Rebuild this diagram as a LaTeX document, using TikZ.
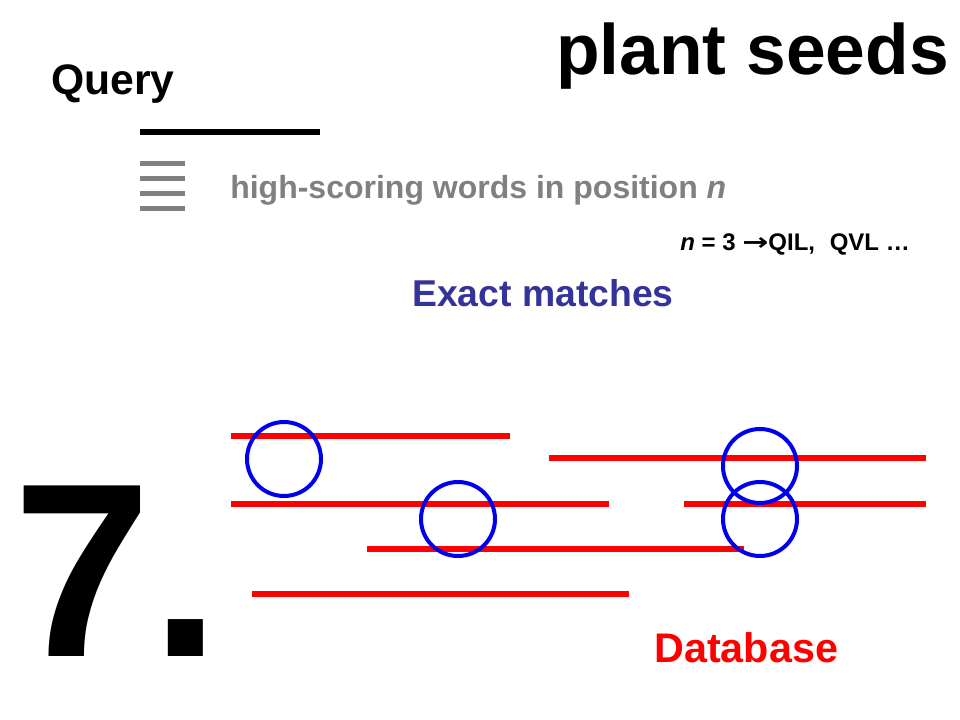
\documentclass[tikz,border=0pt]{standalone}
\usepackage{fontspec}
\setmainfont{Liberation Sans}
\newfontfamily\arrowfont{DejaVu Sans}
\usepackage{tikz}
\definecolor{SeedRed}{rgb}{1,0,0}
\definecolor{SeedBlue}{rgb}{0,0,0.93}
\definecolor{MatchBlue}{rgb}{0.2,0.2,0.6}
\definecolor{WordGrey}{rgb}{0.5,0.5,0.5}
\tikzset{
    txt/.style={anchor=base west, inner sep=0pt, font=\bfseries},
    dbline/.style={SeedRed, line width=4.5pt},
    seed/.style={SeedBlue, line width=3pt}
}

\begin{document}
\begin{tikzpicture}[x=0.75pt, y=-0.75pt]
    \useasboundingbox (0,0) rectangle (960,720);
    %%Titles
    \node[txt, font=\bfseries\fontsize{53.5}{54}\selectfont] (title) at (556,75) {plant seeds};
    \node[txt, font=\bfseries\fontsize{32}{32}\selectfont] (query) at (51,95) {Query};
    \node[txt, font=\bfseries\fontsize{186}{186}\selectfont] (seven) at (13,656) {7.};
    %%Query and words
    \draw[line width=4.5pt] (140,132) to (320,132);
    \foreach \y in {164,179,194,209}
    {
    \draw[WordGrey, line width=3.75pt] (140,\y) to (185,\y);
    }
    \node[txt, WordGrey, font=\bfseries\fontsize{24}{24}\selectfont] (words) at (230,199) {high-scoring words in position \textit{n}};
    \node[txt, font=\bfseries\fontsize{18}{18}\selectfont] (example) at (680,251) {\textit{n} = 3 {\arrowfont\bfseries\scalebox{1.3}[1]{→}}QIL,\,\, QVL \dots};
    \node[txt, MatchBlue, font=\bfseries\fontsize{28}{28}\selectfont] (matches) at (412,306) {Exact matches};
    %%Database
    \foreach \a/\b/\y in {231/510/436, 549/926/458, 231/609/504, 684/926/504, 367/744/549, 252/629/594}
    {
    \draw[dbline] (\a,\y) to (\b,\y);
    }
    \foreach \x/\y in {284/459, 458/519, 760/466, 760/519}
    {
    \draw[seed] (\x,\y) circle (37);
    }
    \node[txt, SeedRed, font=\bfseries\fontsize{31}{31}\selectfont] (db) at (654,662) {Database};
\end{tikzpicture}
\end{document}
